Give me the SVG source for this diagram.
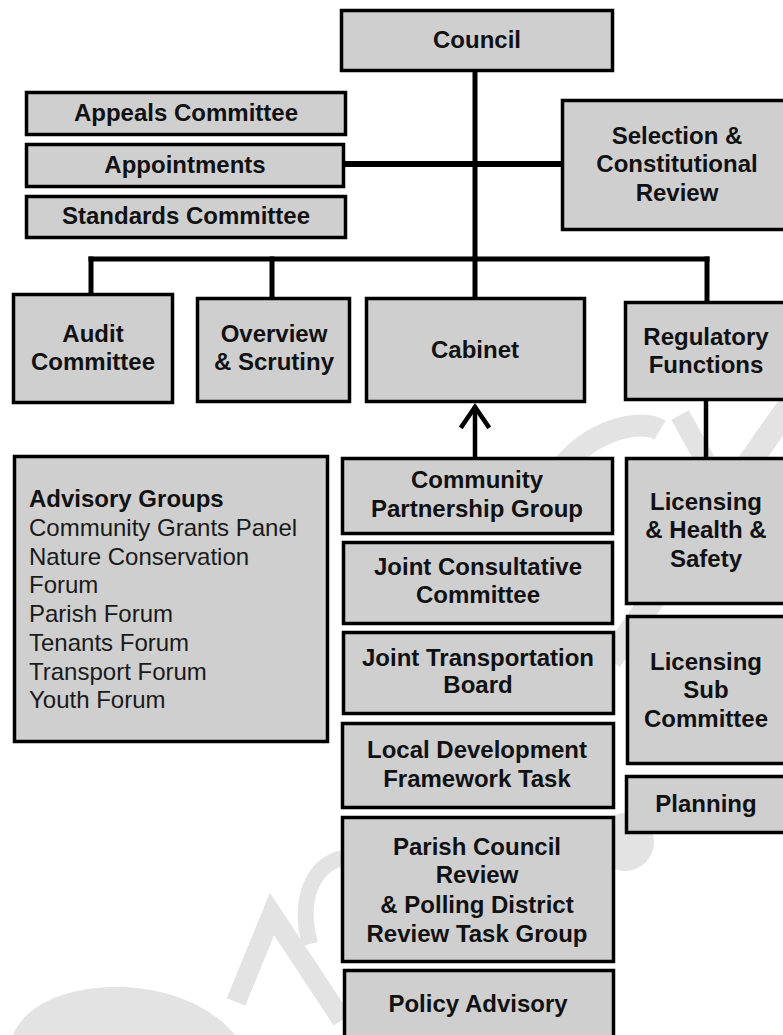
<svg xmlns="http://www.w3.org/2000/svg" width="783" height="1035" viewBox="0 0 783 1035">
<style>
.box{fill:#cfcfcf;stroke:#000;stroke-width:3.5}
.t{font-family:"Liberation Sans",Arial,sans-serif;font-size:24px;font-weight:bold;fill:#111;text-anchor:middle}
.r{font-family:"Liberation Sans",Arial,sans-serif;font-size:24px;fill:#1a1a1a}
.rb{font-family:"Liberation Sans",Arial,sans-serif;font-size:24px;font-weight:bold;fill:#111}
.c{stroke:#000;fill:none;stroke-linecap:square}
.wm{fill:#e3e3e3}
.wms{stroke:#e3e3e3;fill:none}
</style>
<rect width="783" height="1035" fill="#fff"/>
<g id="watermark">
<path class="wm" d="M13,1035 C30,995 85,986 123,987 C175,989 215,1010 235,1035 Z"/>
<path class="wms" stroke-width="20" d="M236,1002 L272,914 L342,1020"/>
<path class="wms" stroke-width="16" d="M342,858 C312,866 298,900 310,944"/>
<circle class="wm" cx="625" cy="842" r="29"/>
<path class="wms" stroke-width="24" d="M790,405 L610,660"/>
<path class="wms" stroke-width="22" d="M560,470 C590,430 640,418 660,430"/>
<path class="wms" stroke-width="20" d="M680,415 L705,460"/>
</g>
<g id="connectors">
<line class="c" x1="475" y1="71" x2="475" y2="297" stroke-width="5"/>
<line class="c" x1="346" y1="164" x2="561" y2="164" stroke-width="6"/>
<line class="c" x1="91" y1="259" x2="707" y2="259" stroke-width="5"/>
<line class="c" x1="91" y1="259" x2="91" y2="293" stroke-width="5"/>
<line class="c" x1="272" y1="259" x2="272" y2="297" stroke-width="5"/>
<line class="c" x1="707" y1="259" x2="707" y2="301" stroke-width="5"/>
<line class="c" x1="706" y1="401" x2="706" y2="457" stroke-width="4.5"/>
<line class="c" x1="475" y1="456" x2="475" y2="408" stroke-width="4.5"/>
<polyline class="c" points="462,426 475,407 488,426" stroke-width="4.5" stroke-linecap="butt"/>
</g>
<g id="council"><rect class="box" x="341.5" y="10.5" width="271" height="60"/><text class="t" x="477" y="48">Council</text></g>
<g id="appeals"><rect class="box" x="26.5" y="92.5" width="319" height="42"/><text class="t" x="186" y="121">Appeals Committee</text></g>
<g id="appointments"><rect class="box" x="26.5" y="144.5" width="317" height="42"/><text class="t" x="185" y="173">Appointments</text></g>
<g id="standards"><rect class="box" x="26.5" y="196.5" width="319" height="41"/><text class="t" x="186" y="224">Standards Committee</text></g>
<g id="selection"><rect class="box" x="562.5" y="100.5" width="230" height="129"/><text class="t" x="677" y="144">Selection &amp;</text><text class="t" x="677" y="172">Constitutional</text><text class="t" x="677" y="201">Review</text></g>
<g id="audit"><rect class="box" x="13.5" y="294.5" width="159" height="108"/><text class="t" x="93" y="342">Audit</text><text class="t" x="93" y="370">Committee</text></g>
<g id="overview"><rect class="box" x="197.5" y="298.5" width="152" height="103"/><text class="t" x="274" y="342">Overview</text><text class="t" x="274" y="370">&amp; Scrutiny</text></g>
<g id="cabinet"><rect class="box" x="366.5" y="298.5" width="218" height="103"/><text class="t" x="475" y="358">Cabinet</text></g>
<g id="regulatory"><rect class="box" x="625.5" y="302.5" width="170" height="97"/><text class="t" x="706" y="345">Regulatory</text><text class="t" x="706" y="373">Functions</text></g>
<g id="advisory"><rect class="box" x="14.5" y="456.5" width="313" height="285"/>
<text class="rb" x="29" y="507">Advisory Groups</text>
<text class="r" x="29" y="536">Community Grants Panel</text>
<text class="r" x="29" y="565">Nature Conservation</text>
<text class="r" x="29" y="593">Forum</text>
<text class="r" x="29" y="622">Parish Forum</text>
<text class="r" x="29" y="651">Tenants Forum</text>
<text class="r" x="29" y="680">Transport Forum</text>
<text class="r" x="29" y="708">Youth Forum</text></g>
<g id="community"><rect class="box" x="342.5" y="458.5" width="270" height="75"/><text class="t" x="477" y="488">Community</text><text class="t" x="477" y="517">Partnership Group</text></g>
<g id="jointcons"><rect class="box" x="343.5" y="542.5" width="269" height="81"/><text class="t" x="478" y="575">Joint Consultative</text><text class="t" x="478" y="603">Committee</text></g>
<g id="jointtrans"><rect class="box" x="343.5" y="632.5" width="270" height="81"/><text class="t" x="478" y="666">Joint Transportation</text><text class="t" x="478" y="693">Board</text></g>
<g id="localdev"><rect class="box" x="342.5" y="723.5" width="271" height="84"/><text class="t" x="477" y="758">Local Development</text><text class="t" x="477" y="787">Framework Task</text></g>
<g id="parish"><rect class="box" x="342.5" y="817.5" width="271" height="144"/><text class="t" x="477" y="855">Parish Council</text><text class="t" x="477" y="883">Review</text><text class="t" x="477" y="913">&amp; Polling District</text><text class="t" x="477" y="942">Review Task Group</text></g>
<g id="policy"><rect class="box" x="344.5" y="970.5" width="269" height="80"/><text class="t" x="478" y="1012">Policy Advisory</text></g>
<g id="lichs"><rect class="box" x="626.5" y="458.5" width="170" height="145"/><text class="t" x="706" y="510">Licensing</text><text class="t" x="706" y="538">&amp; Health &amp;</text><text class="t" x="706" y="567">Safety</text></g>
<g id="licsub"><rect class="box" x="627.5" y="616.5" width="170" height="147"/><text class="t" x="706" y="670">Licensing</text><text class="t" x="706" y="698">Sub</text><text class="t" x="706" y="727">Committee</text></g>
<g id="planning"><rect class="box" x="626.5" y="776.5" width="170" height="56"/><text class="t" x="706" y="812">Planning</text></g>
</svg>
